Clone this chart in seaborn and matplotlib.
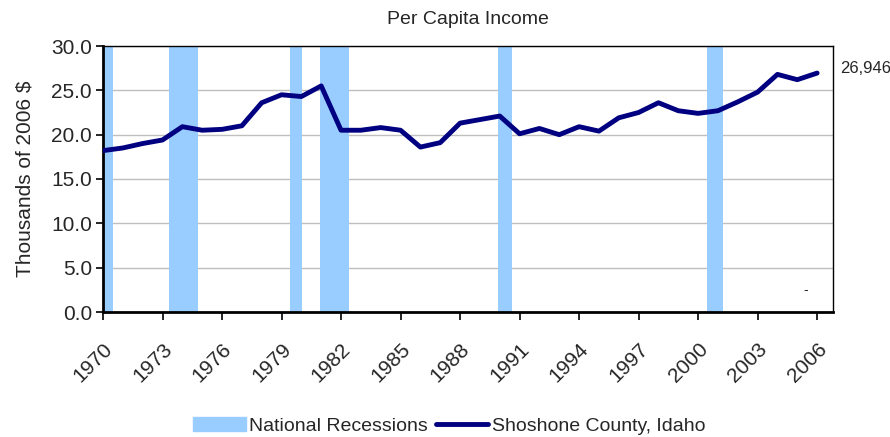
import matplotlib
matplotlib.use("Agg")
import matplotlib.pyplot as plt
import matplotlib.patches as mpatches
import seaborn as sns
import pandas as pd

years = list(range(1970, 2007))
income = [18.2, 18.5, 19.0, 19.4, 20.9, 20.5, 20.6, 21.0, 23.6, 24.5,
          24.3, 25.5, 20.5, 20.5, 20.8, 20.5, 18.6, 19.1, 21.3, 21.7,
          22.1, 20.1, 20.7, 20.0, 20.9, 20.4, 21.9, 22.5, 23.6, 22.7,
          22.4, 22.7, 23.7, 24.8, 26.8, 26.2, 26.946]
rec_start = [1970.0, 1973.35, 1979.45, 1980.95, 1989.9, 2000.45]
rec_end = [1970.5, 1974.8, 1980.05, 1982.4, 1990.6, 2001.25]
xticks = list(range(1970, 2007, 3))
yticks = [0, 5, 10, 15, 20, 25, 30]

sns.set_theme(style="white")
plt.rcParams["font.family"] = ["Liberation Sans", "DejaVu Sans"]

df = pd.DataFrame({"year": years, "income": income})

fig = plt.figure(figsize=(8.9, 4.37), dpi=100)
ax = fig.add_axes([103 / 890, 1 - 312 / 437, 730 / 890, 266 / 437])

for s, e in zip(rec_start, rec_end):
    ax.axvspan(s, e, color="#99CCFF", lw=0, zorder=1)

ax.set_yticks(yticks)
ax.yaxis.grid(True, color="#BFBFBF", lw=1, zorder=0)
ax.set_axisbelow(True)

sns.lineplot(data=df, x="year", y="income", ax=ax, color="#000080", lw=3.5,
             zorder=3)

ax.set_xlim(1970, 2006.8)
ax.set_ylim(0, 30)
ax.set_xticks(xticks)
ax.set_xticklabels([str(y) for y in xticks], rotation=45, ha="right",
                   rotation_mode="anchor", fontsize=15)
ax.set_yticklabels([f"{v:.1f}" for v in yticks], fontsize=15)
ax.tick_params(axis="x", direction="out", length=6, width=1.2,
               color="black", bottom=True, pad=14)
ax.tick_params(axis="y", direction="out", length=5, width=1.2,
               color="black", left=True, pad=3)
ax.set_xlabel("")
ax.set_ylabel("Thousands of 2006 $", fontsize=15, labelpad=12)
for side in ["top", "right"]:
    ax.spines[side].set_color("black")
    ax.spines[side].set_linewidth(1)
for side in ["left", "bottom"]:
    ax.spines[side].set_color("black")
    ax.spines[side].set_linewidth(2)

ax.set_title("Per Capita Income", fontsize=14, pad=16)
ax.annotate(f"{income[-1] * 1000:,.0f}", xy=(1, income[-1]),
            xycoords=("axes fraction", "data"), xytext=(5, 3),
            textcoords="offset points", va="center", fontsize=12)
ax.text(2005.4, 2.5, "-", fontsize=10, ha="center", va="center")

handles = [mpatches.Patch(color="#99CCFF", label="National Recessions"),
           plt.Line2D([], [], color="#000080", lw=3.5,
                      label="Shoshone County, Idaho")]
fig.legend(handles=handles, loc="lower center", ncol=2, frameon=False,
           fontsize=14, bbox_to_anchor=(0.505, -0.035), handlelength=2.7,
           columnspacing=0.4, handletextpad=0.2)

fig.savefig("out.png", dpi=100)
